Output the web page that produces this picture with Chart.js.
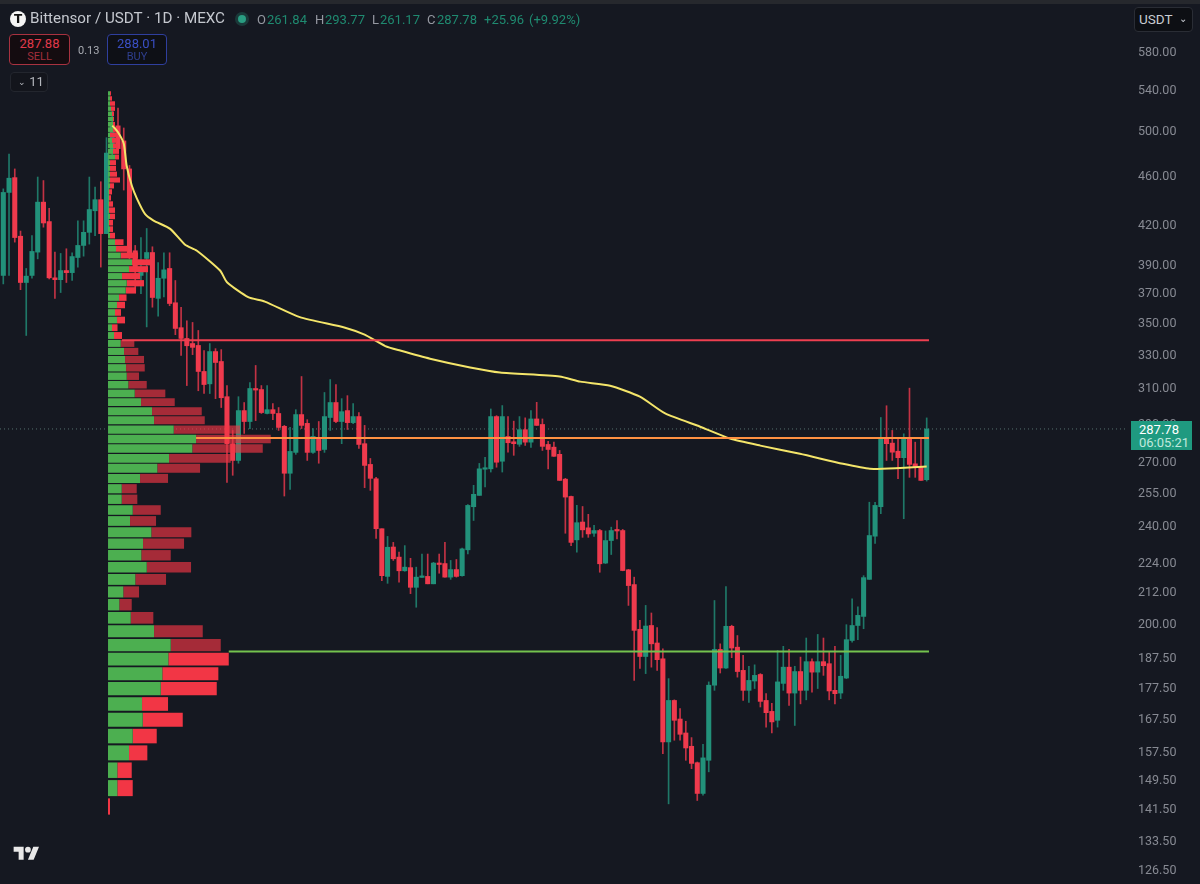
<!DOCTYPE html>
<html>
<head>
<meta charset="utf-8">
<title>Bittensor / USDT</title>
<script src="https://cdn.jsdelivr.net/npm/chart.js@4/dist/chart.umd.min.js"></script>
<style>
  html, body { margin: 0; padding: 0; background: #151821; }
  #wrap { position: relative; width: 1200px; height: 884px; overflow: hidden; background: #151821; font-family: Roboto, "Noto Sans", sans-serif; }
  #topstrip { position: absolute; left: 0; top: 0; width: 1200px; height: 4px; background: #26282d; }
  .t { position: absolute; white-space: nowrap; line-height: 1; }
  .up { color: #1f8a70; }
  .lab { color: #9598a1; }
  .box { position: absolute; box-sizing: border-box; border-radius: 4px; text-align: center; }
  #tag { position: absolute; left: 1131px; top: 421px; width: 61px; height: 29px; background: #1f9a80; color: #fff; font-size: 13px; }
</style>
</head>
<body>
<div id="wrap">
  <canvas id="chart" width="1200" height="884"></canvas>
  <div id="topstrip"></div>

  <div class="t" style="left:10px;top:11px;width:16px;height:16px;border-radius:50%;background:#f5f5f5;color:#111;font:bold 12px/16px 'DejaVu Sans';text-align:center">T</div>
  <div class="t" style="left:30px;top:11px;font-size:15.2px;color:#c4c7ce">Bittensor / USDT · 1D · MEXC</div>
  <div class="t" style="left:238px;top:15px;width:8px;height:8px;border-radius:50%;background:#2a9d82;box-shadow:0 0 0 3px rgba(42,157,130,.25)"></div>

  <div class="t lab" style="left:257px;top:13px;font-size:13px">O</div><div class="t up" style="left:267px;top:13px;font-size:13px">261.84</div>
  <div class="t lab" style="left:315px;top:13px;font-size:13px">H</div><div class="t up" style="left:325px;top:13px;font-size:13px">293.77</div>
  <div class="t lab" style="left:372px;top:13px;font-size:13px">L</div><div class="t up" style="left:380px;top:13px;font-size:13px">261.17</div>
  <div class="t lab" style="left:427px;top:13px;font-size:13px">C</div><div class="t up" style="left:437px;top:13px;font-size:13px">287.78</div>
  <div class="t up" style="left:484px;top:13px;font-size:13px">+25.96</div>
  <div class="t up" style="left:529px;top:13px;font-size:13px">(+9.92%)</div>

  <div class="box" style="left:9px;top:34px;width:61px;height:31px;border:1px solid #a83240;background:#140c10">
    <div style="color:#e0394b;font-size:13px;line-height:14px;margin-top:2px">287.88</div>
    <div style="color:#a32f3c;font-size:11px;line-height:12px">SELL</div>
  </div>
  <div class="t" style="left:78px;top:45px;font-size:11px;color:#a9acb3">0.13</div>
  <div class="box" style="left:107px;top:34px;width:60px;height:31px;border:1px solid #2f3f9e;background:#0e1016">
    <div style="color:#3a4fc4;font-size:13px;line-height:14px;margin-top:2px">288.01</div>
    <div style="color:#2f3f8f;font-size:11px;line-height:12px">BUY</div>
  </div>
  <div class="box" style="left:10px;top:72px;width:38px;height:20px;border:1px solid #23262e;background:#13151c;color:#b4b7bd;font-size:13px;line-height:18px;text-align:left;padding-left:7px">
    <span style="font-size:9px;position:relative;top:-1px">&#8964;</span>&nbsp;11
  </div>

  <div class="box" style="left:1134px;top:7px;width:59px;height:25px;border:1px solid #2a2d35;background:#0d0f14;color:#c9ccd3;font-size:13.5px;line-height:23px;text-align:left;padding-left:4px">USDT<span style="position:absolute;right:5px;top:-1px;font-size:10px">&#8964;</span></div>

  <div id="tag">
    <div style="position:absolute;left:8px;top:2px;line-height:13px">287.78</div>
    <div style="position:absolute;left:8px;top:15px;line-height:13px;color:#bfe9dd">06:05:21</div>
  </div>

  <svg style="position:absolute;left:12px;top:844px" width="29" height="20" viewBox="0 0 36 28" fill="#e8e8e8">
    <path d="M14 22H7V11H0V4h14v18zM28 22h-8l7.5-18h8L28 22z"/><circle cx="20" cy="8" r="4"/>
  </svg>
</div>

<script>
// tick labels on the price axis
const tickValues = [580, 540, 500, 460, 420, 390, 370, 350, 330, 310, 290, 270, 255, 240, 224, 212, 200, 187.5, 177.5, 167.5, 157.5, 149.5, 141.5, 133.5, 126.5];
const priceMin = 123.35;
const priceMax = 639.6;

// daily candles, left to right
const opens = [383,447,459.5,412,378,383,400,439,423.4,381.3,380,386.5,385,396,405,415,432,441,414,481,
  506,492,467,401,383,395.3,399.7,367,381,388,364,347.5,340.6,337.4,336.2,320.3,313,332.4,326.3,305.6,
  280,271.4,297.8,291.8,310.3,309.7,296.2,298.3,296.2,289.2,265,275.5,295.6,290.8,275.5,283.3,277,294,302.3,291.8,
  297.8,291.2,294.5,280,269.4,262.3,239,218.7,231,226.7,221,222.3,214.3,218.3,218.7,215.7,224,224,218.4,221.5,
  219,229.8,249,254.3,267,267.2,294.5,271,283.8,281,279.7,287.4,280.8,293.2,290.2,279.6,278.2,274.5,262.1,253.8,
  234.1,242,239.4,237,238.2,224.2,233.8,238.4,238.2,221.4,215.4,198.2,188.4,199.6,193.2,187.6,160.7,173.6,167.7,163.4,
  159.4,154.6,146,155.3,178.6,190.9,184.4,199.3,191.7,183.6,176.9,180,182.2,173.6,170.1,167.3,179.2,184.7,176,183.2,
  176.9,186.6,183,186.6,185.9,176.9,176,181,194.1,199.6,203,217.5,235.7,249,282.6,280.3,276.1,272.8,282.6,269.7,
  268.4,261.84];
const highs = [450,480,467,416,388,412.5,460,457,434,400,399,402.5,399.5,424,424,460,451.4,456,495,520,
  523,504,470,405,411,418,404,392.3,399.5,399.5,379.4,361,352,350.9,345.7,333,337.4,334.2,333.6,312,
  287,305.6,302.3,313.8,323.9,312,312,301.7,299.5,289.7,288.6,298.3,317.3,292.8,288,291.8,308,315.5,312.6,304.5,
  306.2,301.7,296.7,289.7,272.4,263,239,235.6,233,228.8,231.6,226.2,222.5,228,228,224.5,228,233,225.3,225.7,
  230.5,250,259.1,269.9,273,298.7,295,300.6,294.5,292,294.5,293.8,297.8,302.4,293.2,281.2,280.8,276.5,262.5,254,
  249.6,249.1,245.5,240.5,238.7,238,239.7,242.7,238.7,221.6,218.4,201.5,207.2,204.3,198.8,191.1,180.8,173.8,171,167,
  162,154.8,160,179.7,209.1,192.9,214.6,199.7,195.9,188.8,185,185.5,182.5,175.8,172.7,190.5,192,190.9,185,188.2,
  195,187.6,196.3,195,189.9,192,188.8,199.9,209.8,206.7,219,251.1,251,294,300.5,287,282.6,285.2,310.5,280.8,
  282.6,293.77];
const lows = [377,383,407.5,373,342.5,381,395,419,380.5,367,371,378,379.4,389,397,406,412.5,389,414,478,
  481,449,395,372,370.3,348,361,355,368,362,343,330,312,330.5,309,307.4,307.4,304.5,299.5,260.5,
  264,270,285.4,288,292.3,296.2,296,292.8,287,254,257.2,274.5,288,271.4,275,270,275.5,287,291.2,280,
  287.5,290.7,277.5,258,256.7,234.7,217,215.9,225.3,216.4,220.8,211.8,206.5,218.3,215.7,215.7,220,218.4,217.5,218.4,
  218.8,228,242.7,254.3,258.3,265.6,268,265.6,275.6,274,278.6,279.1,278,289.7,276.5,267.2,273.5,261.5,237,231.6,
  228.8,235.2,235.2,235.6,220.4,224,227.8,234.5,221,207.2,180.2,184.3,182.5,184.7,183.6,157.2,143.2,161.2,161.2,155.3,
  152.9,144.1,145.5,152,176.9,182.7,184.3,188,181.3,173.6,173,177.5,171.5,165.2,163.4,165.2,176.9,172,165.7,172.5,
  173.8,176.3,177.5,181.9,173.8,172.5,174.2,180.8,193.5,194.4,198.4,217.5,232.5,245.8,271.4,271.4,262.3,243.5,263,263,
  261.5,261.17];
const closes = [447,459,411,378,382.5,400.5,439,422.3,381.3,380,386.5,385,396.7,405,415,433,441,414,481,506,
  485,467,399,386.5,388.5,399.7,367.6,381,387,363.5,347,340.6,336,335,320.3,312.6,332.4,325.7,305,280,
  271.4,297.8,291.8,310.3,309.4,296.7,298.3,296.2,288.6,265,276,295.6,289.7,275.5,283.8,276.5,294.5,302.3,291.8,297.2,
  291.2,294.5,279.6,268.9,262.5,239,219,230.9,226,221,222.5,214.3,218.4,218.7,215.7,224.2,223.6,218.4,221.5,218.7,
  230.2,249.6,254.8,267.2,267.5,294.5,270.5,294.5,280.5,280,287.4,280.8,293.2,289.7,278.6,277,273.5,261.5,253.5,233,
  241.7,238.5,236.7,238.2,223.9,233.8,238.2,238,221.1,215,197.8,188.4,199.4,192.9,187.3,160.7,173.6,167.3,163,158.9,
  154.4,146,156,178.6,190.9,184.4,199.3,191.4,183.2,176.9,180.2,181.9,173.3,169.7,166.8,179.7,184.7,176,183.2,176.9,
  186.6,183,186.6,185.2,176.7,175.8,181.6,194.4,199.6,203.4,218.2,236,249.6,282.6,280,275.6,272.8,282.6,269.4,268,
  261.5,287.78];

// 200 day average, read at these candle positions
const maIndex = [19,20,21,21.5,22.4,23.3,24.7,26.2,29.1,31.7,33.7,37.8,39,42.7,45.6,51.7,59.6,63,66.6,69.2,74.4,81.4,86.6,97,100.6,105.8,111,115.4,121.5,126.7,132,138.9,146.4,151.1,156.4,161];
const maValues = [506.3,500,489.6,470,452.8,441.9,429.5,424.2,417.7,405.5,401.2,386.5,378.2,367.8,364.8,354.4,347.5,343,335.8,333,328,322.7,319.7,317.3,314.3,311.9,305.6,296.2,289,282.7,279,274.8,269.7,267.2,267.6,268.3];

// volume profile rows, bottom to top
const rowPrices = [142.5,147.5,152.5,157.5,162.5,167.5,172.5,177.5,182.5,187.5,192.5,197.5,202.5,207.5,212.5,217.5,222.5,227.5,232.5,237.5,
  242.5,247.5,252.5,257.5,262.5,267.5,272.5,277.5,282.5,287.5,292.5,297.5,302.5,307.5,312.5,317.5,322.5,327.5,332.5,337.5,
  342.5,347.5,352.5,357.5,362.5,367.5,372.5,377.5,382.5,387.5,392.5,397.5,402.5,407.5,412.5,417.5,422.5,427.5,432.5,437.5,
  442.5,447.5,452.5,457.5,462.5,467.5,472.5,477.5,482.5,487.5,492.5,497.5,502.5,507.5,512.5,517.5,522.5,527.5,532.5,537.5];
const rowUp = [0,9.3,9.3,21,24.7,34.7,34,52.7,54.3,60.3,62.7,46,22.7,11.3,15.3,27.3,38.7,33.3,35,43.3,
  22,24.7,13.7,13.7,32,49.3,61,84.3,88,65.7,46,44,33,26.7,20.3,18.7,18,17,16,12.7,
  6,4,9,7,9,11,17.7,18.7,14,21,24,12.7,8,7,2,2,1,2,1,1,
  1,1,2,2,2,2,2,7,5,5,4,2,5,5,5,4,3,2,2,2];
const rowTotal = [2,24.7,23.7,39.3,48.7,74.7,60,108.7,110.3,120.7,112.7,94.7,45.3,23.7,31,58,83,62.7,76,83.3,
  48,52.7,29.3,28.7,60,92,122.7,154.7,162.7,132,96.7,93.7,66.7,57.3,38.7,31,36.7,36,30.3,26.3,
  14,9.5,17,13,17,18.5,28,36,32,40,42,30,20,15.5,7,5,5,7,7,5,
  3,4,6,12,9,8,8,11,11,10,9,9,9,7,6,6,7,7,4,3];
const valueAreaLow = 190;
const valueAreaHigh = 340;

const lastPrice = 287.78;
const vahPrice = 339.5;
const pocPrice = 283;
const valPrice = 190.2;

const UP = '#22917a';
const DOWN = '#ef3a4d';
const UP_WICK = 'rgba(34,145,122,.8)';
const DOWN_WICK = 'rgba(239,58,77,.8)';

// the profile shares the candle x axis: it starts at this candle position
const profileOrigin = 18.26;
const candlesPerVolume = 0.1744;
const profileX = v => profileOrigin + v * candlesPerVolume;

const indexMin = -0.575;
const indexMax = 196.1;
const levelEnd = 161.4;

const isUp = i => closes[i] >= opens[i];

const ctx = document.getElementById('chart');
new Chart(ctx, {
    data: {
        datasets: [
            // levels from the profile
            { type: 'line', order: 0, xAxisID: 'x', yAxisID: 'y', borderColor: '#ee3f50', borderWidth: 2, pointRadius: 0,
              data: [{ x: profileX(14), y: vahPrice }, { x: levelEnd, y: vahPrice }] },
            { type: 'line', order: 0, xAxisID: 'x', yAxisID: 'y', borderColor: '#ff9142', borderWidth: 2, pointRadius: 0,
              data: [{ x: profileX(88), y: pocPrice }, { x: levelEnd, y: pocPrice }] },
            { type: 'line', order: 0, xAxisID: 'x', yAxisID: 'y', borderColor: '#74c24e', borderWidth: 2, pointRadius: 0,
              data: [{ x: profileX(120.7), y: valPrice }, { x: levelEnd, y: valPrice }] },
            // moving average
            { type: 'line', order: 1, xAxisID: 'x', yAxisID: 'y', borderColor: '#f4e56a', borderWidth: 2, pointRadius: 0, tension: 0.2,
              data: maIndex.map((x, k) => ({ x, y: maValues[k] })) },
            // volume profile, each part on its own hidden price axis so rows keep their full height
            { type: 'bar', order: 2, indexAxis: 'y', xAxisID: 'x', yAxisID: 'yBuy',
              barThickness: 'flex', categoryPercentage: 1, barPercentage: 0.88, inflateAmount: 0,
              backgroundColor: '#4caf50',
              data: rowPrices.map((p, k) => ({ y: p, x: [profileX(0), profileX(rowUp[k])] })) },
            { type: 'bar', order: 2, indexAxis: 'y', xAxisID: 'x', yAxisID: 'ySell',
              barThickness: 'flex', categoryPercentage: 1, barPercentage: 0.88, inflateAmount: 0,
              backgroundColor: rowPrices.map(p => (p > valueAreaLow && p < valueAreaHigh) ? 'rgba(242,54,69,.65)' : '#f23645'),
              data: rowPrices.map((p, k) => ({ y: p, x: [profileX(rowUp[k]), profileX(rowTotal[k])] })) },
            // candles
            { type: 'bar', order: 3, xAxisID: 'x', yAxisID: 'y', grouped: false, barThickness: 4.4, minBarLength: 1.5,
              backgroundColor: opens.map((_, i) => isUp(i) ? UP : DOWN),
              data: opens.map((o, i) => ({ x: i, y: [o, closes[i]] })) },
            { type: 'bar', order: 4, xAxisID: 'x', yAxisID: 'y', grouped: false, barThickness: 1,
              backgroundColor: opens.map((_, i) => isUp(i) ? UP_WICK : DOWN_WICK),
              data: opens.map((o, i) => ({ x: i, y: [lows[i], highs[i]] })) },
            // last price
            { type: 'line', order: 5, xAxisID: 'x', yAxisID: 'y', borderColor: '#55706c', borderWidth: 1, borderDash: [1, 3], pointRadius: 0,
              data: [{ x: indexMin, y: lastPrice }, { x: indexMax, y: lastPrice }] }
        ]
    },
    options: {
        responsive: true,
        maintainAspectRatio: false,
        animation: false,
        layout: { padding: 0 },
        plugins: { legend: { display: false }, tooltip: { enabled: false } },
        scales: {
            x: { type: 'linear', display: false, offset: false, stacked: false, min: indexMin, max: indexMax },
            yBuy: { type: 'logarithmic', axis: 'y', display: false, offset: false, min: priceMin, max: priceMax },
            ySell: { type: 'logarithmic', axis: 'y', display: false, offset: false, min: priceMin, max: priceMax },
            y: {
                type: 'logarithmic',
                position: 'right',
                offset: false,
                min: priceMin,
                max: priceMax,
                grid: { display: false },
                border: { display: false },
                afterBuildTicks: axis => { axis.ticks = tickValues.map(value => ({ value })); },
                afterFit: axis => { axis.width = 72; axis.paddingTop = 0; axis.paddingBottom = 0; },
                ticks: {
                    autoSkip: false,
                    maxRotation: 0,
                    padding: 2,
                    color: '#878a93',
                    font: { family: 'Roboto', size: 12.5 },
                    callback: v => Number(v).toFixed(2)
                }
            }
        }
    }
});
</script>
</body>
</html>
